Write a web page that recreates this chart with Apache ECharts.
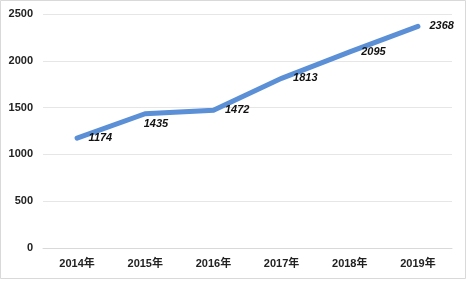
<!DOCTYPE html>
<html><head><meta charset="utf-8">
<script src="https://cdn.jsdelivr.net/npm/echarts@6/dist/echarts.min.js"></script>
<style>html,body{margin:0;padding:0;background:#fff}#c{width:467px;height:281px}</style>
</head><body><div id="c"></div>
<script>
var categories = ['2014年','2015年','2016年','2017年','2018年','2019年'];
var values = [1174, 1435, 1472, 1813, 2095, 2368];
var yTicks = [0, 500, 1000, 1500, 2000, 2500];

var chart = echarts.init(document.getElementById('c'), null, {renderer:'canvas'});
chart.setOption({
  animation: false,
  backgroundColor: '#fff',
  graphic: [{type:'rect', shape:{x:0.5,y:0.5,width:465,height:278}, style:{fill:'none', stroke:'#d9d9d9', lineWidth:1}}],
  grid: {left:43, right:15, top:14, bottom:33},
  xAxis: {
    type:'category', data:categories, boundaryGap:true,
    axisLine:{show:true, lineStyle:{color:'#d9d9d9'}}, axisTick:{show:false},
    axisLabel:{color:'#222', fontWeight:'bold', fontSize:11, fontFamily:'Liberation Sans, Noto Sans CJK SC', margin:10}
  },
  yAxis: {
    type:'value', min:yTicks[0], max:yTicks[yTicks.length-1], interval:500,
    axisLine:{show:false}, axisTick:{show:false},
    splitLine:{lineStyle:{color:'#e6e6e6', width:1}},
    axisLabel:{color:'#222', fontWeight:'bold', fontSize:11, fontFamily:'Liberation Sans', margin:10,
      formatter:function(v){return String(v);}}
  },
  series: [{
    type:'line', data:values, symbol:'circle', symbolSize:3, showSymbol:true,
    itemStyle:{color:'#5b8fd6'},
    lineStyle:{color:'#5b8fd6', width:5, cap:'round', join:'miter'},
    label:{show:true, position:'right', distance:10, offset:[0,2], color:'#111', fontStyle:'italic', fontWeight:'bold', fontSize:11, fontFamily:'Liberation Sans'},
    labelLayout:function(p){
      if (p.dataIndex === 1) return {dx:-13, dy:10, hideOverlap:false};
      return {hideOverlap:false};
    }
  }]
});
</script></body></html>
